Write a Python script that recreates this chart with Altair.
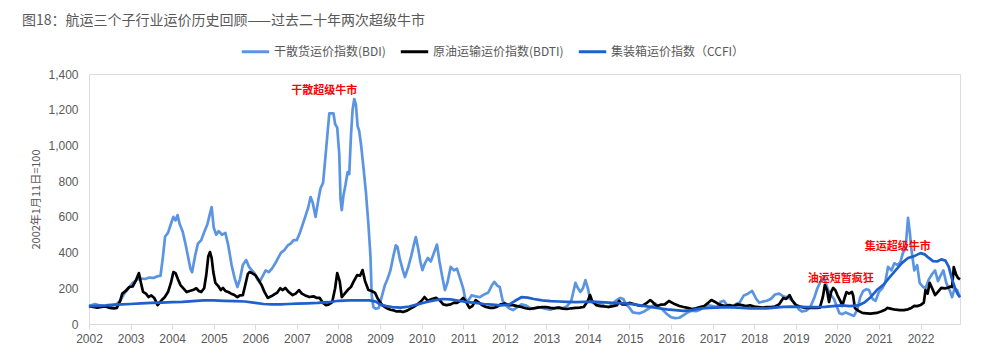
import altair as alt
import pandas as pd

BDI_NAME = "干散货运价指数(BDI)"
BDTI_NAME = "原油运输运价指数(BDTI)"
CCFI_NAME = "集装箱运价指数（CCFI）"

bdi_t = [2002.00,2002.08,2002.15,2002.25,2002.35,2002.45,2002.55,2002.65,2002.75,2002.85,2002.95,2003.05,2003.15,2003.25,2003.35,2003.45,2003.55,2003.65,2003.72,2003.78,2003.83,2003.90,2003.97,2004.03,2004.08,2004.13,2004.18,2004.25,2004.32,2004.38,2004.44,2004.48,2004.55,2004.62,2004.70,2004.78,2004.85,2004.90,2004.95,2005.00,2005.06,2005.12,2005.20,2005.28,2005.35,2005.43,2005.50,2005.57,2005.63,2005.70,2005.78,2005.85,2005.92,2005.98,2006.05,2006.10,2006.18,2006.25,2006.32,2006.40,2006.48,2006.55,2006.62,2006.70,2006.78,2006.85,2006.92,2007.00,2007.07,2007.13,2007.20,2007.27,2007.33,2007.38,2007.45,2007.52,2007.57,2007.63,2007.68,2007.73,2007.78,2007.83,2007.88,2007.92,2007.97,2008.02,2008.05,2008.08,2008.12,2008.17,2008.22,2008.26,2008.30,2008.34,2008.38,2008.42,2008.46,2008.50,2008.55,2008.60,2008.66,2008.72,2008.77,2008.80,2008.84,2008.90,2008.97,2009.05,2009.12,2009.17,2009.25,2009.32,2009.38,2009.42,2009.48,2009.55,2009.60,2009.68,2009.75,2009.82,2009.86,2009.92,2009.97,2010.02,2010.08,2010.15,2010.22,2010.30,2010.37,2010.43,2010.50,2010.56,2010.62,2010.70,2010.78,2010.85,2010.92,2011.00,2011.05,2011.12,2011.20,2011.30,2011.40,2011.50,2011.60,2011.70,2011.75,2011.82,2011.88,2011.95,2012.05,2012.12,2012.20,2012.30,2012.40,2012.50,2012.60,2012.70,2012.80,2012.90,2013.00,2013.10,2013.20,2013.30,2013.40,2013.50,2013.60,2013.70,2013.76,2013.82,2013.88,2013.94,2014.00,2014.06,2014.12,2014.20,2014.30,2014.40,2014.50,2014.60,2014.70,2014.78,2014.85,2014.92,2015.00,2015.08,2015.15,2015.25,2015.35,2015.45,2015.55,2015.62,2015.70,2015.80,2015.90,2016.00,2016.10,2016.20,2016.30,2016.40,2016.50,2016.60,2016.70,2016.80,2016.90,2017.00,2017.10,2017.20,2017.27,2017.35,2017.45,2017.55,2017.65,2017.75,2017.85,2017.95,2018.05,2018.12,2018.20,2018.30,2018.40,2018.50,2018.60,2018.70,2018.80,2018.90,2019.00,2019.08,2019.15,2019.25,2019.35,2019.45,2019.52,2019.60,2019.67,2019.72,2019.78,2019.85,2019.92,2020.00,2020.05,2020.12,2020.20,2020.30,2020.40,2020.48,2020.55,2020.62,2020.70,2020.76,2020.85,2020.92,2021.00,2021.08,2021.15,2021.22,2021.30,2021.37,2021.45,2021.52,2021.58,2021.64,2021.70,2021.74,2021.78,2021.85,2021.92,2021.98,2022.05,2022.12,2022.20,2022.28,2022.35,2022.42,2022.48,2022.55,2022.62,2022.70,2022.76,2022.82,2022.88,2022.95]
bdi_v = [100,108,112,104,100,97,102,108,130,170,200,230,248,255,252,260,258,268,270,380,490,510,560,600,580,610,560,520,450,380,310,290,380,450,470,520,560,610,655,540,500,520,500,510,440,330,260,207,250,330,358,320,300,285,250,235,270,300,290,310,340,370,400,414,440,450,470,470,510,550,600,650,711,680,600,700,760,790,918,1050,1180,1180,1180,1120,1100,950,700,638,720,780,850,840,1050,1200,1260,1230,1110,1080,991,880,740,560,380,160,95,85,90,160,220,246,300,380,440,431,360,300,263,320,380,450,487,420,350,302,340,370,350,400,445,350,260,190,230,320,300,310,260,200,140,130,160,155,150,165,175,220,236,215,207,130,100,85,78,95,110,105,90,85,95,90,85,80,90,92,88,100,130,230,200,180,200,246,200,130,118,120,115,100,95,115,135,146,140,110,90,65,62,60,70,85,100,115,95,80,55,38,33,35,50,65,75,72,80,100,105,100,95,125,130,105,95,110,120,160,170,185,140,120,125,130,140,165,170,155,150,135,110,80,70,75,95,150,200,240,262,230,190,160,140,90,60,55,65,55,45,80,150,185,195,190,140,130,180,200,230,320,300,340,330,350,400,420,594,520,420,300,330,230,210,200,250,280,300,240,270,300,230,190,150,200,190,150]

bdti_t = [2002.00,2002.10,2002.20,2002.30,2002.40,2002.50,2002.60,2002.67,2002.75,2002.80,2002.88,2002.97,2003.05,2003.12,2003.20,2003.25,2003.30,2003.37,2003.43,2003.50,2003.57,2003.65,2003.70,2003.75,2003.82,2003.90,2003.97,2004.03,2004.08,2004.14,2004.20,2004.27,2004.35,2004.42,2004.50,2004.58,2004.64,2004.70,2004.77,2004.82,2004.87,2004.91,2004.95,2004.99,2005.04,2005.10,2005.17,2005.22,2005.28,2005.35,2005.42,2005.50,2005.57,2005.63,2005.70,2005.76,2005.82,2005.86,2005.92,2006.00,2006.07,2006.15,2006.22,2006.30,2006.38,2006.45,2006.52,2006.60,2006.66,2006.72,2006.80,2006.90,2006.97,2007.05,2007.12,2007.20,2007.30,2007.40,2007.48,2007.55,2007.62,2007.70,2007.77,2007.85,2007.92,2007.97,2008.03,2008.08,2008.15,2008.22,2008.30,2008.37,2008.45,2008.52,2008.58,2008.64,2008.72,2008.80,2008.88,2008.95,2009.05,2009.15,2009.25,2009.30,2009.40,2009.48,2009.55,2009.65,2009.72,2009.80,2009.90,2010.00,2010.07,2010.15,2010.25,2010.35,2010.45,2010.52,2010.60,2010.70,2010.78,2010.85,2010.93,2011.00,2011.08,2011.15,2011.22,2011.30,2011.38,2011.45,2011.55,2011.65,2011.72,2011.80,2011.90,2012.00,2012.10,2012.20,2012.30,2012.40,2012.50,2012.60,2012.70,2012.80,2012.90,2013.00,2013.10,2013.20,2013.30,2013.40,2013.50,2013.60,2013.70,2013.80,2013.90,2014.00,2014.05,2014.10,2014.20,2014.30,2014.40,2014.50,2014.60,2014.70,2014.75,2014.82,2014.90,2015.00,2015.10,2015.20,2015.30,2015.40,2015.50,2015.57,2015.65,2015.75,2015.85,2015.95,2016.02,2016.10,2016.20,2016.30,2016.40,2016.50,2016.60,2016.70,2016.80,2016.90,2016.97,2017.05,2017.15,2017.30,2017.40,2017.50,2017.60,2017.70,2017.80,2017.90,2018.00,2018.10,2018.20,2018.30,2018.40,2018.50,2018.60,2018.70,2018.77,2018.85,2018.92,2019.00,2019.10,2019.20,2019.30,2019.40,2019.50,2019.58,2019.65,2019.70,2019.75,2019.80,2019.85,2019.90,2019.95,2020.00,2020.07,2020.12,2020.18,2020.22,2020.28,2020.35,2020.38,2020.42,2020.50,2020.60,2020.70,2020.80,2020.95,2021.05,2021.15,2021.20,2021.30,2021.40,2021.50,2021.60,2021.70,2021.78,2021.85,2021.92,2022.00,2022.08,2022.12,2022.17,2022.22,2022.28,2022.35,2022.42,2022.50,2022.58,2022.65,2022.72,2022.76,2022.80,2022.85,2022.90,2022.95]
bdti_v = [100,95,92,96,98,90,88,90,130,170,185,207,210,240,285,230,180,170,151,160,146,106,120,134,150,179,230,291,285,250,218,200,179,185,190,200,185,179,200,274,380,403,370,291,230,215,190,202,185,179,170,162,150,160,162,220,280,291,285,274,250,218,180,146,155,165,174,200,190,202,180,162,170,190,170,160,151,155,146,146,120,106,110,123,200,285,240,151,170,190,207,240,274,270,302,240,190,185,174,140,106,90,80,78,70,72,67,75,85,95,110,130,151,130,140,146,130,110,106,110,120,118,130,146,120,90,100,134,120,106,95,90,90,95,110,115,106,106,100,95,88,84,88,92,95,95,90,88,92,86,84,88,90,92,95,130,162,130,106,100,98,95,100,106,130,110,110,118,112,105,101,115,134,120,101,108,110,129,120,110,101,95,90,84,88,95,101,120,134,125,110,101,106,100,110,106,100,105,98,95,92,95,95,98,110,146,140,162,130,106,98,92,90,92,90,92,150,218,190,123,180,202,190,162,130,101,150,179,170,179,160,90,75,62,60,58,62,70,80,90,85,80,78,78,82,90,101,100,106,120,190,170,230,200,162,180,202,200,202,210,207,319,280,258,250]

ccfi_t = [2002.00,2002.20,2002.40,2002.60,2002.80,2003.00,2003.25,2003.50,2003.75,2004.00,2004.25,2004.50,2004.75,2005.00,2005.25,2005.50,2005.75,2006.00,2006.20,2006.40,2006.60,2006.80,2007.00,2007.25,2007.50,2007.75,2008.00,2008.25,2008.50,2008.75,2008.90,2009.00,2009.15,2009.30,2009.50,2009.70,2009.90,2010.10,2010.30,2010.50,2010.70,2010.90,2011.10,2011.30,2011.50,2011.70,2011.90,2012.10,2012.25,2012.40,2012.55,2012.70,2012.90,2013.10,2013.30,2013.50,2013.70,2013.90,2014.10,2014.30,2014.50,2014.70,2014.90,2015.10,2015.30,2015.50,2015.70,2015.90,2016.10,2016.30,2016.50,2016.70,2016.90,2017.10,2017.30,2017.50,2017.70,2017.90,2018.10,2018.30,2018.50,2018.70,2018.90,2019.10,2019.30,2019.50,2019.70,2019.90,2020.10,2020.30,2020.50,2020.65,2020.80,2020.95,2021.10,2021.25,2021.40,2021.55,2021.70,2021.85,2022.00,2022.10,2022.20,2022.30,2022.40,2022.50,2022.60,2022.68,2022.76,2022.84,2022.90,2022.95]
ccfi_v = [100,102,104,108,110,112,115,118,120,122,124,128,132,132,130,128,126,118,112,110,110,112,114,116,118,122,130,132,133,132,125,110,100,95,92,98,110,122,132,140,138,130,122,118,112,108,104,108,130,150,148,140,132,128,126,124,123,124,125,122,120,117,115,110,103,96,88,82,78,74,78,86,90,92,95,93,90,88,87,88,92,96,97,96,94,94,96,100,104,100,104,120,150,190,218,260,300,341,370,380,397,390,370,352,350,362,355,320,250,195,165,150]

note_text = ["干散超级牛市", "油运短暂疯狂", "集运超级牛市"]
note_t = [2007.66, 2020.08, 2021.45]
note_v = [1305, 252, 431]

year_ticks = list(range(2002, 2023))
y_ticks = [0, 200, 400, 600, 800, 1000, 1200, 1400]

rows = []
for name, ts, vs in [(BDI_NAME, bdi_t, bdi_v), (BDTI_NAME, bdti_t, bdti_v), (CCFI_NAME, ccfi_t, ccfi_v)]:
    for i, (t, v) in enumerate(zip(ts, vs)):
        rows.append({"series": name, "t": t, "v": v, "order": i})
df = pd.DataFrame(rows)
notes = pd.DataFrame({"t": note_t, "v": note_v, "text": note_text})

xscale = alt.Scale(domain=[2002, 2022.95], nice=False, zero=False)
yscale = alt.Scale(domain=[0, 1400], nice=False, zero=True)

x_axis = alt.Axis(
    values=year_ticks, format="d", title=None, grid=False,
    domainColor="#d9d9d9", tickColor="#d9d9d9", tickSize=5,
    labelColor="#595959", labelFontSize=12, labelPadding=4,
    labelFont="Liberation Sans", labelFlush=False, labelOverlap=False)
y_axis = alt.Axis(
    values=y_ticks, format=",d", title="2002年1月11日=100", grid=False,
    domain=False, ticks=False, labelColor="#595959", labelFontSize=12,
    labelPadding=11, labelFont="Liberation Sans", labelOverlap=False,
    labelFlush=False, titleColor="#595959", titleFontSize=11,
    titleFontWeight="normal", titleFont="Noto Sans CJK SC", titlePadding=6)

lines = alt.Chart(df).mark_line(strokeWidth=2.7, strokeJoin="round").encode(
    x=alt.X("t:Q", scale=xscale, axis=x_axis),
    y=alt.Y("v:Q", scale=yscale, axis=y_axis),
    color=alt.Color("series:N", sort=[BDI_NAME, BDTI_NAME, CCFI_NAME],
        scale=alt.Scale(domain=[BDI_NAME, BDTI_NAME, CCFI_NAME],
                        range=["#5b95e2", "#000000", "#1f60cf"]),
        legend=alt.Legend(title=None, orient="none", direction="horizontal",
            legendX=151, legendY=-38, symbolType="stroke", symbolSize=750,
            symbolStrokeWidth=3, labelFontSize=12, labelColor="#595959",
            labelFont="Noto Sans CJK SC", columnPadding=8, labelOffset=3)),
    order="order:Q",
)

text = alt.Chart(notes).mark_text(color="#ff0000", fontSize=11, fontWeight="bold",
                                  font="Noto Sans CJK SC").encode(
    x=alt.X("t:Q", scale=xscale, axis=x_axis),
    y=alt.Y("v:Q", scale=yscale, axis=y_axis),
    text="text:N")

chart = alt.layer(lines, text).properties(
    width=871, height=250,
    autosize=alt.AutoSizeParams(type="none"),
    padding={"left": 81, "top": 66, "right": 10, "bottom": 30},
    title=alt.TitleParams("图18：航运三个子行业运价历史回顾——过去二十年两次超级牛市",
        anchor="start", frame="group", dx=-67, fontSize=14, color="#595959",
        fontWeight="normal", font="Noto Sans CJK SC", offset=8),
).configure_view(stroke=None).configure(background="white")

chart.save("out.html", embed_options={"renderer": "svg", "actions": False})
